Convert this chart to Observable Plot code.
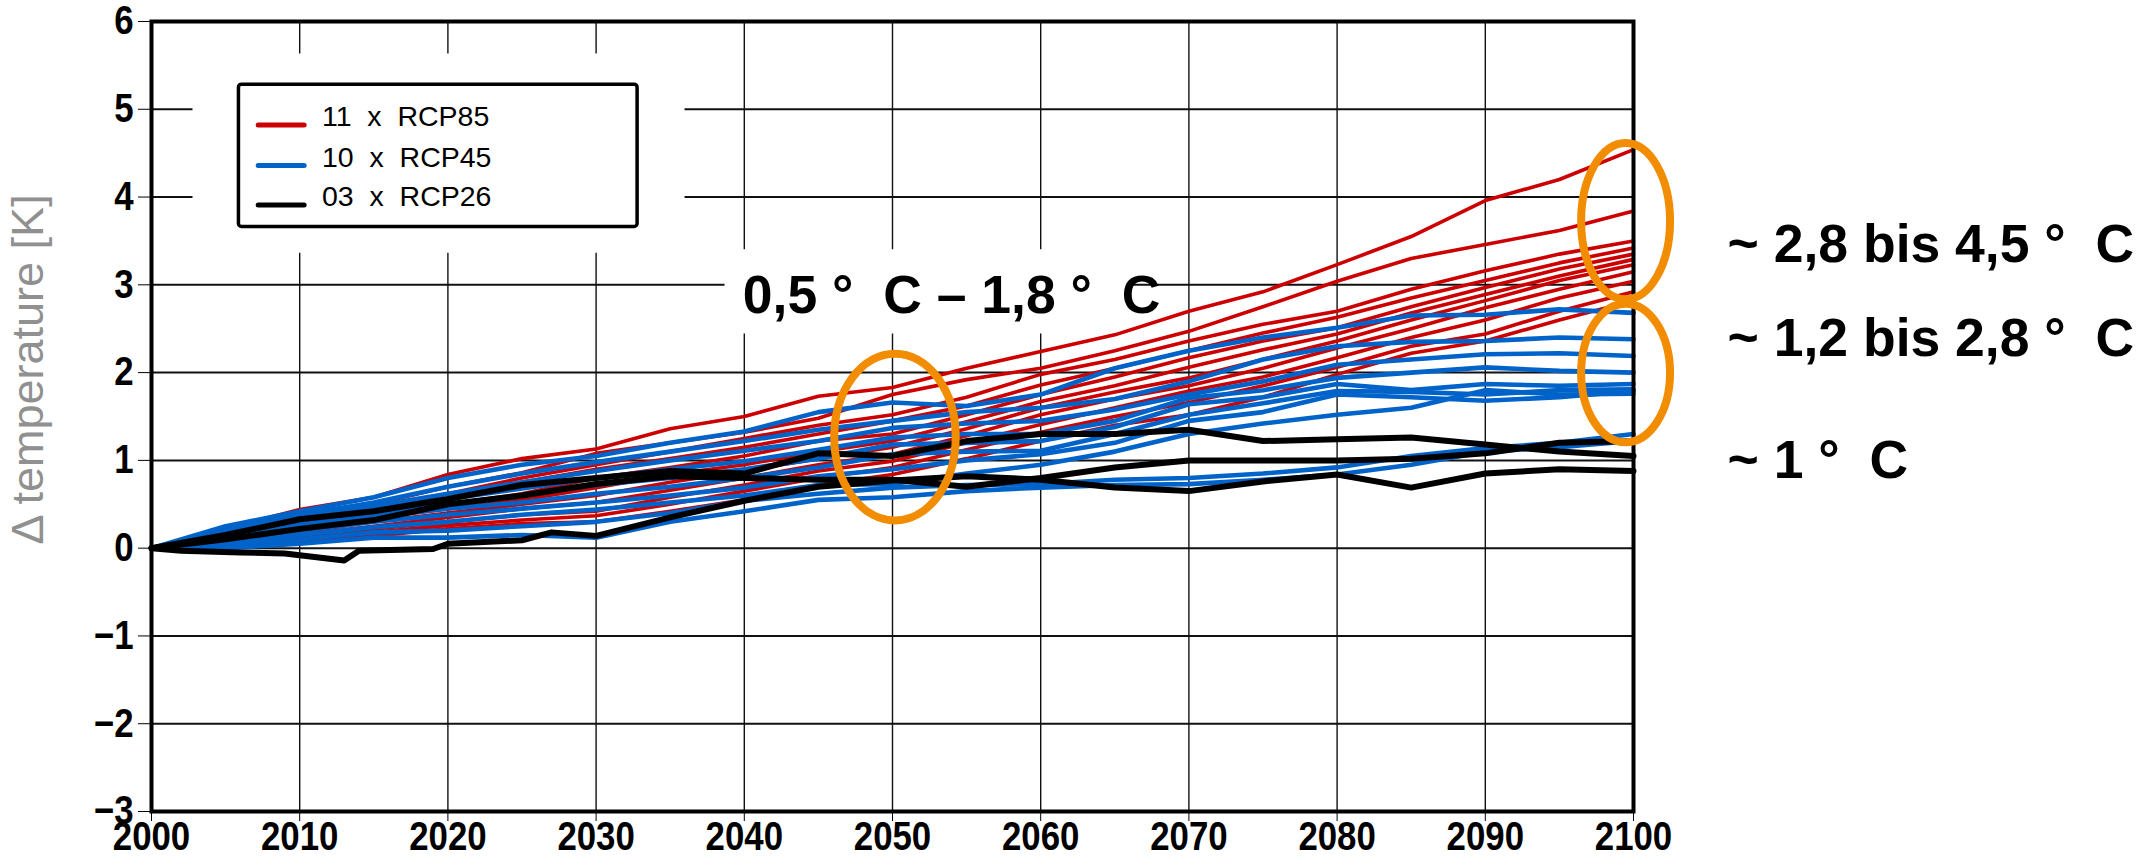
<!DOCTYPE html>
<html>
<head>
<meta charset="utf-8">
<script src="https://cdn.jsdelivr.net/npm/d3@7"></script>
<script src="https://cdn.jsdelivr.net/npm/@observablehq/plot@0.6"></script>
<style>
  html, body { margin: 0; padding: 0; background: #ffffff; }
  #chart { width: 2156px; height: 858px; }
</style>
</head>
<body>
<div id="chart"></div>
<script>
// ---------------- data ----------------
const years = [2000, 2005, 2010, 2015, 2020, 2025, 2030, 2035, 2040, 2045, 2050,
               2055, 2060, 2065, 2070, 2075, 2080, 2085, 2090, 2095, 2100];
const xTicks = [2000, 2010, 2020, 2030, 2040, 2050, 2060, 2070, 2080, 2090, 2100];
const yTicks = [-3, -2, -1, 0, 1, 2, 3, 4, 5, 6];

const legendLabels = ["11  x  RCP85", "10  x  RCP45", "03  x  RCP26"];
const groups = ["RCP85", "RCP45", "RCP26"];

// RCP8.5 members (11)
const rcp85_1  = [0, .22, .44, .58, .84, 1.02, 1.13, 1.36, 1.50, 1.73, 1.83, 2.05, 2.24, 2.43, 2.70, 2.92, 3.23, 3.55, 3.96, 4.20, 4.54];
const rcp85_2  = [0, .18, .40, .50, .70, .86, 1.08, 1.20, 1.32, 1.48, 1.75, 1.92, 2.05, 2.25, 2.47, 2.75, 3.04, 3.30, 3.46, 3.62, 3.84];
const rcp85_3  = [0, .15, .30, .45, .62, .80, .95, 1.10, 1.25, 1.40, 1.52, 1.72, 1.98, 2.15, 2.36, 2.55, 2.70, 2.95, 3.16, 3.35, 3.50];
const rcp85_4  = [0, .10, .25, .38, .56, .75, .90, 1.02, 1.15, 1.30, 1.45, 1.62, 1.86, 2.05, 2.25, 2.45, 2.63, 2.85, 3.05, 3.25, 3.42];
const rcp85_5  = [0, .12, .22, .40, .50, .62, .80, .92, 1.05, 1.22, 1.30, 1.52, 1.75, 1.95, 2.17, 2.36, 2.51, 2.75, 2.97, 3.18, 3.35];
const rcp85_6  = [0, .08, .26, .34, .45, .55, .69, .84, .95, 1.10, 1.22, 1.44, 1.67, 1.85, 2.06, 2.26, 2.44, 2.68, 2.89, 3.10, 3.29];
const rcp85_7  = [0, .06, .18, .30, .40, .50, .60, .75, .88, 1.02, 1.15, 1.36, 1.60, 1.78, 1.94, 2.15, 2.36, 2.60, 2.82, 3.05, 3.23];
const rcp85_8  = [0, .05, .15, .25, .35, .45, .52, .66, .80, .95, 1.07, 1.28, 1.52, 1.70, 1.85, 2.05, 2.28, 2.50, 2.74, 2.95, 3.15];
const rcp85_9  = [0, .04, .12, .22, .30, .38, .42, .58, .72, .88, .99, 1.20, 1.41, 1.60, 1.79, 1.95, 2.17, 2.40, 2.60, 2.85, 3.04];
const rcp85_10 = [0, .03, .10, .18, .26, .32, .37, .50, .65, .80, .92, 1.12, 1.32, 1.50, 1.66, 1.85, 2.06, 2.30, 2.44, 2.70, 2.92];
const rcp85_11 = [0, .02, .08, .14, .22, .28, .30, .42, .55, .72, .84, 1.02, 1.22, 1.40, 1.52, 1.72, 1.98, 2.22, 2.36, 2.60, 2.82];

// RCP4.5 members (10)
const rcp45_1  = [0, .25, .42, .58, .80, .95, 1.05, 1.20, 1.33, 1.55, 1.66, 1.62, 1.75, 2.05, 2.25, 2.40, 2.51, 2.65, 2.66, 2.72, 2.68];
const rcp45_2  = [0, .22, .38, .52, .70, .85, .98, 1.10, 1.22, 1.35, 1.45, 1.55, 1.60, 1.70, 1.90, 2.15, 2.30, 2.35, 2.36, 2.40, 2.38];
const rcp45_3  = [0, .20, .35, .48, .62, .75, .88, 1.00, 1.11, 1.22, 1.37, 1.42, 1.45, 1.58, 1.75, 1.90, 2.09, 2.15, 2.21, 2.22, 2.19];
const rcp45_4  = [0, .18, .32, .44, .56, .68, .80, .90, .99, 1.12, 1.26, 1.30, 1.30, 1.45, 1.71, 1.80, 1.94, 2.00, 2.06, 2.02, 2.00];
const rcp45_5  = [0, .16, .28, .40, .50, .60, .72, .80, .90, 1.02, 1.18, 1.20, 1.22, 1.38, 1.64, 1.72, 1.87, 1.80, 1.87, 1.85, 1.87];
const rcp45_6  = [0, .14, .25, .36, .45, .52, .62, .70, .80, .92, 1.07, 1.10, 1.11, 1.30, 1.52, 1.65, 1.79, 1.78, 1.75, 1.80, 1.81];
const rcp45_7  = [0, .12, .20, .30, .38, .45, .52, .60, .69, .82, .90, 1.00, 1.07, 1.20, 1.45, 1.55, 1.75, 1.72, 1.68, 1.72, 1.79];
const rcp45_8  = [0, .08, .15, .24, .30, .38, .44, .52, .60, .72, .73, .85, .95, 1.10, 1.30, 1.42, 1.52, 1.60, 1.80, 1.75, 1.76];
const rcp45_9  = [0, .04, .10, .18, .20, .25, .30, .40, .54, .62, .69, .72, .73, .78, .80, .85, .92, 1.05, 1.14, 1.20, 1.30];
const rcp45_10 = [0, .00, .05, .12, .12, .15, .12, .30, .42, .55, .58, .65, .69, .72, .73, .78, .84, .95, 1.10, 1.15, 1.22];

// RCP2.6 members (3)
const rcp26_1  = [0, .15, .33, .42, .56, .72, .80, .88, .85, 1.08, 1.05, 1.22, 1.30, 1.30, 1.35, 1.22, 1.24, 1.26, 1.18, 1.10, 1.05];
const rcp26_2  = [0, .10, .22, .32, .50, .60, .73, .82, .80, .78, .78, .70, .80, .92, 1.00, 1.00, 1.00, 1.02, 1.08, 1.20, 1.22];
const yearsK3  = [2000, 2002, 2006, 2009, 2013, 2014, 2019, 2020, 2025, 2027, 2030, 2035, 2040, 2045, 2050,
                  2055, 2060, 2065, 2070, 2075, 2080, 2085, 2090, 2095, 2100];
const rcp26_3  = [0, -.03, -.05, -.06, -.14, -.03, -.01, .05, .09, .18, .14, .35, .54, .70, .77,
                  .82, .78, .69, .65, .76, .84, .69, .85, .90, .88];

// ---------------- annotation layout ----------------
const knockouts = [
  {x1: 2002.8, x2: 2036.0, y1: 5.63, y2: 3.36},
  {x1: 2038.7, x2: 2065.8, y1: 3.40, y2: 2.44}
];
const legendBox = [{x1: 2005.9, x2: 2032.8, y1: 5.28, y2: 3.66}];
const legendRows = [
  {x1: 2007.2, x2: 2010.3, y: 4.82, ty: 4.91},
  {x1: 2007.2, x2: 2010.3, y: 4.36, ty: 4.45},
  {x1: 2007.2, x2: 2010.3, y: 3.91, ty: 4.00}
];
const notes = [
  {text: "0,5 °\u00a0\u00a0C – 1,8 °\u00a0\u00a0C", x: 2039.9, y: 2.87},
  {text: "~ 2,8 bis 4,5 °\u00a0\u00a0C", x: 2106.35, y: 3.45},
  {text: "~ 1,2 bis 2,8 °\u00a0\u00a0C", x: 2106.35, y: 2.38},
  {text: "~ 1 °\u00a0\u00a0C", x: 2106.35, y: 1.00}
];
const ellipses = [
  {cx: 2050.2, cy: 1.26, rx: 4.1, ry: 0.95},
  {cx: 2099.5, cy: 3.72, rx: 3.0, ry: 0.89},
  {cx: 2099.5, cy: 1.99, rx: 3.0, ry: 0.79}
];

// ---------------- build table ----------------
const colors = {RCP85: "#cc0000", RCP45: "#0063c9", RCP26: "#000000"};
const widths = {RCP85: 3.6, RCP45: 4.6, RCP26: 6};
const seriesList = [
  ...[rcp85_1, rcp85_2, rcp85_3, rcp85_4, rcp85_5, rcp85_6, rcp85_7, rcp85_8, rcp85_9, rcp85_10, rcp85_11]
     .map((v, i) => ({name: "RCP85_" + i, group: "RCP85", yrs: years, values: v})),
  ...[rcp45_1, rcp45_2, rcp45_3, rcp45_4, rcp45_5, rcp45_6, rcp45_7, rcp45_8, rcp45_9, rcp45_10]
     .map((v, i) => ({name: "RCP45_" + i, group: "RCP45", yrs: years, values: v})),
  {name: "RCP26_0", group: "RCP26", yrs: years, values: rcp26_1},
  {name: "RCP26_1", group: "RCP26", yrs: years, values: rcp26_2},
  {name: "RCP26_2", group: "RCP26", yrs: yearsK3, values: rcp26_3}
];
const rows = seriesList.flatMap(s => s.values.map((v, i) => ({series: s.name, group: s.group, year: s.yrs[i], value: v})));
const legendData = legendRows.map((r, i) => ({...r, group: groups[i], label: legendLabels[i]}));

const textFont = "'Liberation Sans', Arial, Helvetica, sans-serif";

const lineMarks = groups.map(g =>
  Plot.line(rows.filter(d => d.group === g), {
    x: "year", y: "value", z: "series",
    stroke: colors[g], strokeWidth: widths[g], strokeLinejoin: "round", strokeLinecap: "round"
  })
);

const plot = Plot.plot({
  width: 2156, height: 858,
  marginLeft: 151, marginRight: 523, marginTop: 21, marginBottom: 47,
  style: {fontFamily: textFont, fontSize: "37px", color: "#000", background: "#fff", overflow: "visible"},
  x: {domain: [2000, 2100], ticks: xTicks, tickFormat: d => String(d), tickSize: 10, tickPadding: 0, label: null},
  y: {domain: [-3, 6], ticks: yTicks, tickFormat: d => d < 0 ? "\u2212" + Math.abs(d) : String(d), tickSize: 13, tickPadding: 5, label: null},
  marks: [
    Plot.ruleX(xTicks.slice(1, -1), {stroke: "#111", strokeWidth: 1.4}),
    Plot.ruleY(yTicks.slice(1, -1), {stroke: "#111", strokeWidth: 2}),
    Plot.rect(knockouts, {x1: "x1", x2: "x2", y1: "y1", y2: "y2", fill: "#fff"}),
    ...lineMarks,
    Plot.frame({stroke: "#000", strokeWidth: 4}),
    Plot.rect(legendBox, {x1: "x1", x2: "x2", y1: "y1", y2: "y2", fill: "#fff", stroke: "#000", strokeWidth: 3.5, rx: 3}),
    Plot.link(legendData, {x1: "x1", x2: "x2", y1: "y", y2: "y", stroke: d => colors[d.group], strokeWidth: 5, strokeLinecap: "round"}),
    Plot.text(legendData, {x: d => d.x2 + 1.2, y: "ty", text: "label", textAnchor: "start", fontSize: 28.5, fontWeight: "normal", fontFamily: textFont, fill: "#000"}),
    Plot.text(notes, {x: "x", y: "y", text: "text", textAnchor: "start", fontSize: 53.5, fontWeight: "bold", fontFamily: textFont, fill: "#000"})
  ]
});

document.getElementById("chart").appendChild(plot);
const svg = d3.select(plot);

// condensed look for the tick labels (scale about each label's own anchor)
const squeeze = 0.87;
svg.selectAll('g[aria-label^="x-axis"] text, g[aria-label^="y-axis"] text').each(function () {
  const t = d3.select(this);
  t.style("font-family", textFont).style("font-weight", "bold").style("font-size", "40px");
  const tr = t.attr("transform");
  if (tr) {
    t.attr("transform", tr + ` scale(${squeeze},1)`);
  } else {
    const x = +t.attr("x") || 0;
    t.attr("x", x / squeeze).attr("transform", `scale(${squeeze},1)`);
  }
});

// ellipses placed through the plot's own scales
const sx = plot.scale("x"), sy = plot.scale("y");
const mapX = v => sx.range[0] + (v - sx.domain[0]) / (sx.domain[1] - sx.domain[0]) * (sx.range[1] - sx.range[0]);
const mapY = v => sy.range[0] + (v - sy.domain[0]) / (sy.domain[1] - sy.domain[0]) * (sy.range[1] - sy.range[0]);
svg.append("g").selectAll("ellipse").data(ellipses).join("ellipse")
  .attr("cx", d => mapX(d.cx)).attr("cy", d => mapY(d.cy))
  .attr("rx", d => Math.abs(mapX(d.cx + d.rx) - mapX(d.cx)))
  .attr("ry", d => Math.abs(mapY(d.cy + d.ry) - mapY(d.cy)))
  .attr("fill", "none").attr("stroke", "#f28c00").attr("stroke-width", 8);

// y-axis title
svg.append("text")
  .attr("transform", `translate(43,${mapY(2.03)}) rotate(-90)`)
  .attr("text-anchor", "middle")
  .attr("font-family", textFont).attr("font-size", 45).attr("font-weight", "normal").attr("fill", "#909090")
  .text("Δ temperature [K]");
</script>
</body>
</html>
